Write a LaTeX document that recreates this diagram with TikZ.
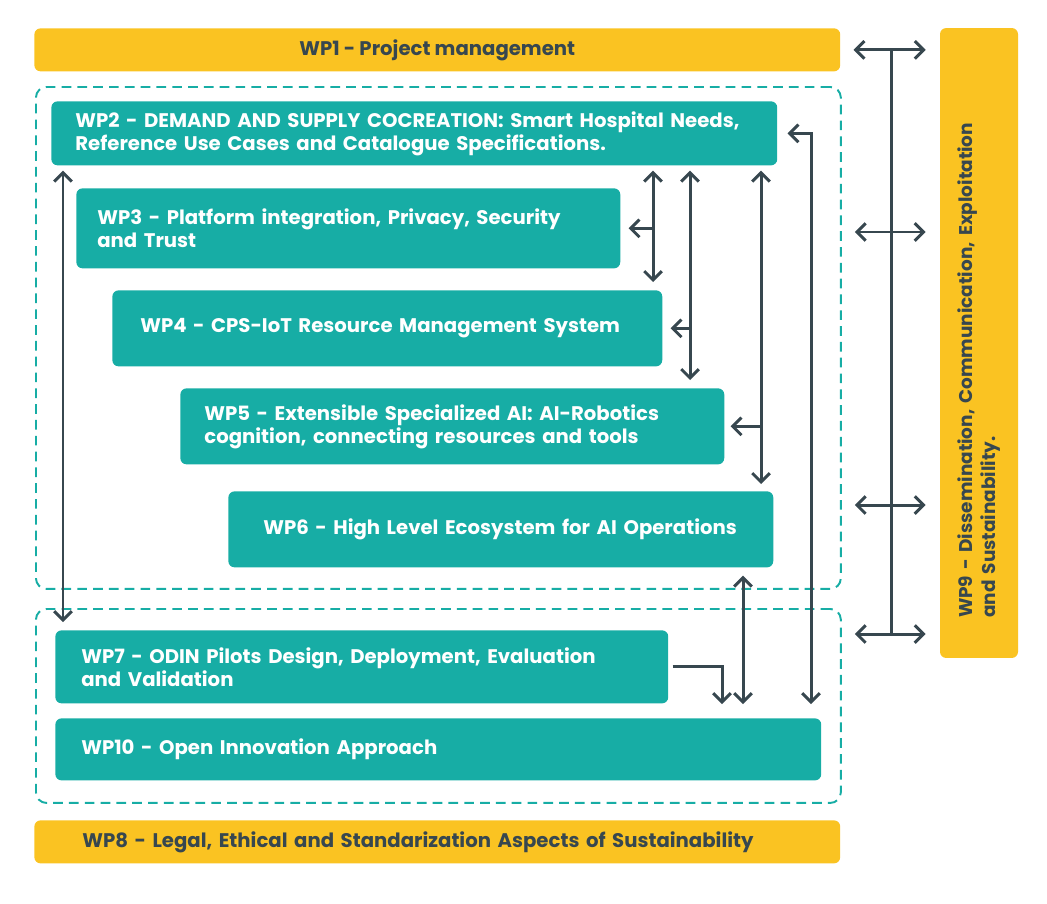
\documentclass[tikz,border=0pt]{standalone}
\usepackage{fontspec}
\setmainfont{Poppins}
\usetikzlibrary{positioning,arrows.meta}
\definecolor{wpteal}{HTML}{17ADA5}
\definecolor{wpyellow}{HTML}{FAC322}
\definecolor{wpdark}{HTML}{37474F}

\begin{document}
\begin{tikzpicture}[x=0.02cm,y=-0.02cm,
			every node/.style={
				font=\fontsize{11.2}{13.1}\selectfont\bfseries,
				inner ysep=0pt
			},
			wpbox/.style={fill=wpteal, text=white, rounded corners=3.5pt, align=left, anchor=north west},
			wpbar/.style={fill=wpyellow, text=wpdark, rounded corners=3.5pt, anchor=north west},
			group/.style={draw=wpteal, line width=1.1pt, dash pattern=on 5.5pt off 3.5pt, rounded corners=6pt, anchor=north west},
			link/.style={draw=wpdark, line width=1.7pt, line join=miter},
			>={Straight Barb[length=5pt,width=10pt]}]
			
			\useasboundingbox (0,0) rectangle (1047,903);
			
			\node(grp1)[group, minimum width=16.1cm, minimum height=10.04cm] at (35,86) {};
			
			\node(grp2)[group, minimum width=16.1cm, minimum height=3.88cm] at (35,608) {};
			
			\node(wp1)[wpbar, minimum width=16.12cm, minimum height=0.86cm] at (34,28) {WP1 - Project management};
			
			\node(wp2)[wpbox, text width=13.56cm, inner xsep=0.48cm, minimum height=1.28cm] at (51,101) {WP2 - DEMAND AND SUPPLY COCREATION: Smart Hospital Needs,\\Reference Use Cases and Catalogue Specifications.};
			
			\node(wp3)[wpbox, text width=10.04cm, inner xsep=0.42cm, minimum height=1.6cm] at (76,188) {WP3 - Platform integration, Privacy, Security\\and Trust};
			
			\node(wp4)[wpbox, text width=9.88cm, inner xsep=0.56cm, minimum height=1.52cm] at (112,290) {WP4 - CPS-IoT Resource Management System};
			
			\node(wp5)[wpbox, text width=9.92cm, inner xsep=0.48cm, minimum height=1.52cm] at (180,388) {WP5 - Extensible Specialized AI: AI-Robotics\\cognition, connecting resources and tools};
			
			\node(wp6)[wpbox, text width=9.5cm, inner xsep=0.7cm, minimum height=1.52cm] at (228,491) {WP6 - High Level Ecosystem for AI Operations};
			
			\node(wp7)[wpbox, text width=11.22cm, inner xsep=0.52cm, minimum height=1.46cm] at (55,630) {WP7 - ODIN Pilots Design, Deployment, Evaluation\\and Validation};
			
			\node(wp10)[wpbox, text width=14.28cm, inner xsep=0.52cm, minimum height=1.24cm] at (55,718) {WP10 - Open Innovation Approach};
			
			\node(wp8)[wpbar, align=left, text width=14.2cm, inner xsep=0.96cm, minimum height=0.86cm] at (34,820) {WP8 - Legal, Ethical and Standarization Aspects of Sustainability};
			
			\node(wp9)[wpbar, anchor=center, rotate=90, align=left, text width=11.0cm, inner xsep=0.8cm, minimum height=1.56cm, font=\fontsize{10.5}{13.1}\selectfont\bfseries] at (979,343) {WP9 - Dissemination, Communication, Exploitation\\and Sustainability.};
			
			\coordinate(cA) at (63,0);
			\coordinate(cB) at (653,0);
			\coordinate(cC) at (690,0);
			\coordinate(cD) at (761,0);
			\coordinate(cE) at (811,0);
			\coordinate(cF) at (743,0);
			\coordinate(cG) at (722,0);
			\coordinate(cR) at (891,0);
			\coordinate(r2) at (0,232);
			\coordinate(r3) at (0,505);
			\coordinate(r4) at (0,634);
			
			\draw[link,<->,shorten <=0.1cm,shorten >=0.16cm](wp2.south -| cA)--(wp7.north -| cA);
			
			\draw[link,<->,shorten <=0.1cm,shorten >=0.16cm](wp2.south -| cB)--(wp4.north -| cB);
			\draw[link,->,shorten >=0.16cm](cB |- wp3.east)--(wp3.east);
			
			\draw[link,<->,shorten <=0.1cm,shorten >=0.16cm](wp2.south -| cC)--(wp5.north -| cC);
			\draw[link,->,shorten >=0.16cm](cC |- wp4.east)--(wp4.east);
			
			\draw[link,<->,shorten <=0.1cm,shorten >=0.14cm](wp2.south -| cD)--(wp6.north -| cD);
			\draw[link,->,shorten >=0.12cm](cD |- wp5.east)--(wp5.east);
			
			\draw[link,<->,shorten <=0.2cm,shorten >=0.28cm](wp2.east)-|(wp10.north -| cE);
			
			\draw[link,<->,shorten <=0.16cm,shorten >=0.28cm](wp6.south -| cF)--(wp10.north -| cF);
			
			\draw[link,->,shorten <=0.08cm,shorten >=0.28cm](wp7.east)-|(wp10.north -| cG);
			
			\draw[link](wp1.east -| cR)--(cR |- r4);
			
			\draw[link,<->,shorten <=0.26cm,shorten >=0.28cm](wp1.east)--(wp9.north |- wp1.east);
			
			\draw[link,<->,shorten <=0.26cm,shorten >=0.28cm](grp1.east |- r2)--(wp9.north |- r2);
			
			\draw[link,<->,shorten <=0.26cm,shorten >=0.28cm](grp1.east |- r3)--(wp9.north |- r3);
			
			\draw[link,<->,shorten <=0.26cm,shorten >=0.28cm](grp2.east |- r4)--(wp9.north |- r4);
			
		\end{tikzpicture}
\end{document}
